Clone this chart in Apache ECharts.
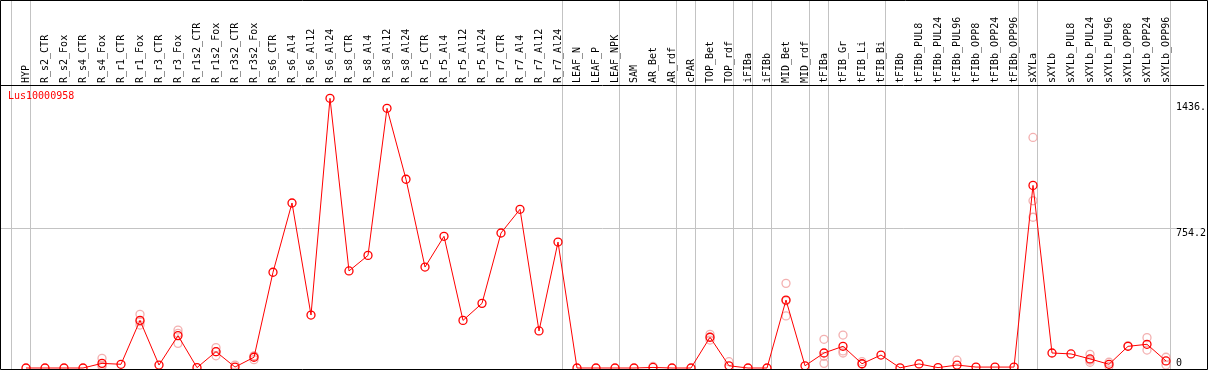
<!DOCTYPE html>
<html>
<head>
<meta charset="utf-8">
<script src="https://cdn.jsdelivr.net/npm/echarts@6/dist/echarts.min.js"></script>
<style>
  html, body { margin: 0; padding: 0; background: #fff; }
  #chart { width: 1209px; height: 370px; }
</style>
</head>
<body>
<div id="chart"></div>
<script>
// sample columns, in plot order
const categories = [
    "HYP", "R_s2_CTR", "R_s2_Fox", "R_s4_CTR", "R_s4_Fox", "R_r1_CTR", "R_r1_Fox", "R_r3_CTR", "R_r3_Fox",
    "R_r1s2_CTR", "R_r1s2_Fox", "R_r3s2_CTR", "R_r3s2_Fox", "R_s6_CTR", "R_s6_Al4", "R_s6_Al12", "R_s6_Al24",
    "R_s8_CTR", "R_s8_Al4", "R_s8_Al12", "R_s8_Al24", "R_r5_CTR", "R_r5_Al4", "R_r5_Al12", "R_r5_Al24",
    "R_r7_CTR", "R_r7_Al4", "R_r7_Al12", "R_r7_Al24", "LEAF_N", "LEAF_P", "LEAF_NPK", "SAM", "AR_Bet", "AR_rdf",
    "cPAR", "TOP_Bet", "TOP_rdf", "iFIBa", "iFIBb", "MID_Bet", "MID_rdf", "tFIBa", "tFIB_Gr", "tFIB_Li", "tFIB_Bi",
    "tFIBb", "tFIBb_PUL8", "tFIBb_PUL24", "tFIBb_PUL96", "tFIBb_OPP8", "tFIBb_OPP24", "tFIBb_OPP96",
    "sXYLa", "sXYLb", "sXYLb_PUL8", "sXYLb_PUL24", "sXYLb_PUL96", "sXYLb_OPP8", "sXYLb_OPP24", "sXYLb_OPP96"
];

// mean expression per column
const means = [
    0, 0, 0, 0, 25, 20, 257, 16, 175, 2, 88, 5, 58,
    517, 891, 286, 1456, 524, 608, 1402, 1019, 545, 711, 257, 349, 729, 857, 200, 680,
    0, 0, 0, 0, 3, 0, 0,
    166, 12, 0, 0, 367, 12, 81, 117, 23, 70, 1,
    22, 2, 16, 5, 5, 5,
    986, 81, 76, 49, 20, 117, 128, 38
];

// single replicates (faint circles)
const replicates = [
    ["R_s4_Fox", 52], ["R_s4_Fox", 15], ["R_s4_Fox", 8],
    ["R_r1_Fox", 290], ["R_r1_Fox", 250], ["R_r1_Fox", 232],
    ["R_r3_Fox", 205], ["R_r3_Fox", 187], ["R_r3_Fox", 133],
    ["R_r1s2_Fox", 110], ["R_r1s2_Fox", 88], ["R_r1s2_Fox", 66],
    ["R_r3s2_CTR", 16],
    ["R_r3s2_Fox", 66], ["R_r3s2_Fox", 63], ["R_r3s2_Fox", 45],
    ["AR_Bet", 8],
    ["TOP_Bet", 182], ["TOP_Bet", 166], ["TOP_Bet", 151],
    ["TOP_rdf", 34],
    ["MID_Bet", 457], ["MID_Bet", 363], ["MID_Bet", 281],
    ["tFIBa", 155], ["tFIBa", 63], ["tFIBa", 25],
    ["tFIB_Gr", 178], ["tFIB_Gr", 92], ["tFIB_Gr", 81],
    ["tFIB_Li", 34], ["tFIB_Li", 20],
    ["tFIBb_PUL96", 42],
    ["sXYLa", 1245], ["sXYLa", 903], ["sXYLa", 814],
    ["sXYLb_PUL24", 74], ["sXYLb_PUL24", 42], ["sXYLb_PUL24", 31],
    ["sXYLb_PUL96", 31], ["sXYLb_PUL96", 9],
    ["sXYLb_OPP8", 120],
    ["sXYLb_OPP24", 164], ["sXYLb_OPP24", 97],
    ["sXYLb_OPP96", 58], ["sXYLb_OPP96", 16]
];

// group separators: a line sits before these column indices
const groupStarts = [0, 1, 29, 32, 35, 36, 38, 39, 40, 42, 43, 46, 53, 54];

const yTickValues = [0, 754.2, 1436];
const yTickLabels = ["0", "754.2", "1436."];
const yGridLines = [754.2];
const geneName = "Lus10000958";

const FONT = "DejaVu Sans Mono";
const Y_MAX = 1528;

const chart = echarts.init(document.getElementById("chart"), null, { renderer: "canvas" });

const option = {
    animation: false,
    backgroundColor: "#fff",
    title: {
        text: geneName,
        left: 8,
        top: 91,
        padding: 0,
        textStyle: { color: "#ff0000", fontFamily: FONT, fontSize: 10, fontWeight: "normal" }
    },
    grid: [
        { left: 16.5, right: 33.5, top: 85, bottom: 2 },   // data
        { left: 11.7, right: 38.3, top: 0, bottom: 1 },    // group separators
        { left: 1, right: 2, top: 85, bottom: 2 }          // full-width gridline + labels
    ],
    xAxis: [
        {
            gridIndex: 0, type: "category", data: categories, position: "top", boundaryGap: true,
            axisLine: { show: false }, axisTick: { show: false }, splitLine: { show: false },
            axisLabel: { rotate: 90, interval: 0, margin: 2, color: "#000", fontFamily: FONT, fontSize: 10 }
        },
        {
            gridIndex: 1, type: "category", data: categories, boundaryGap: true,
            axisLine: { show: false }, axisTick: { show: false }, axisLabel: { show: false },
            splitLine: {
                show: true,
                interval: function (i) { return groupStarts.indexOf(i) >= 0; },
                lineStyle: { color: "#c3c3c3", width: 1 }
            }
        },
        {
            gridIndex: 2, type: "value", position: "top", min: 0, max: 1,
            axisLine: { show: true, onZero: false, lineStyle: { color: "#000", width: 1 } },
            axisTick: { show: false }, axisLabel: { show: false }, splitLine: { show: false }
        }
    ],
    yAxis: [
        { gridIndex: 0, type: "value", min: 0, max: Y_MAX, show: false },
        { gridIndex: 1, type: "value", min: 0, max: 1, show: false },
        {
            gridIndex: 2, type: "value", min: 0, max: Y_MAX, position: "right",
            axisLine: { show: false },
            axisTick: { show: false, customValues: yGridLines },
            splitLine: { show: true, lineStyle: { color: "#c3c3c3", width: 1 } },
            axisLabel: {
                inside: true,
                customValues: yTickValues,
                align: "left",
                margin: 28,
                verticalAlign: "top",
                verticalAlignMinLabel: "bottom",
                backgroundColor: "#fff",
                color: "#000",
                fontFamily: FONT,
                fontSize: 10,
                formatter: function (v) {
                    const i = yTickValues.indexOf(v);
                    return i >= 0 ? yTickLabels[i] : "";
                }
            }
        }
    ],
    graphic: [
        {
            type: "rect",
            shape: { x: 0.5, y: 0.5, width: 1207, height: 369 },
            style: { fill: "none", stroke: "#000", lineWidth: 1 },
            z: 100
        }
    ],
    series: [
        {
            type: "scatter",
            xAxisIndex: 0, yAxisIndex: 0,
            data: replicates,
            symbol: "circle",
            symbolSize: 8,
            itemStyle: { color: "transparent", borderColor: "#f09c9c", borderWidth: 1.3 },
            z: 2
        },
        {
            type: "line",
            name: geneName,
            xAxisIndex: 0, yAxisIndex: 0,
            data: means,
            symbol: "circle",
            symbolSize: 8,
            clip: false,
            lineStyle: { color: "#ff0000", width: 1 },
            itemStyle: { color: "transparent", borderColor: "#ff0000", borderWidth: 1.3 },
            z: 3
        }
    ]
};

chart.setOption(option);
</script>
</body>
</html>
